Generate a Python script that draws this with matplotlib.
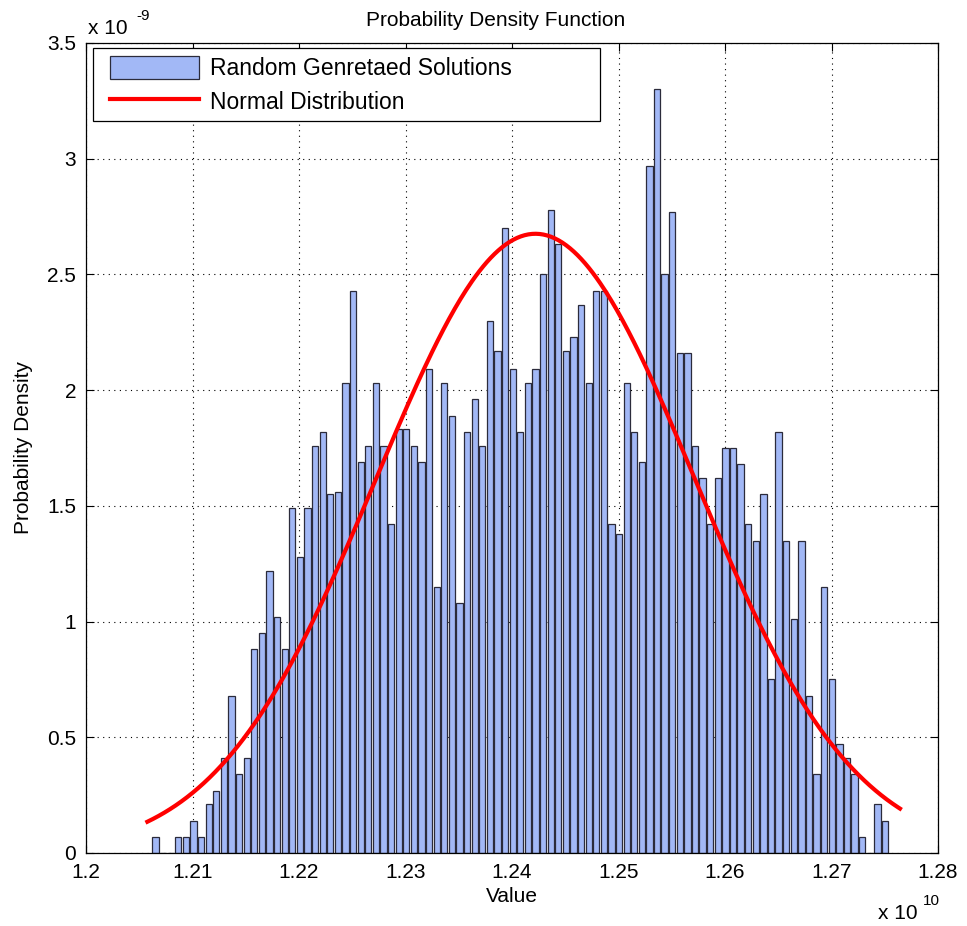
import numpy as np
import matplotlib
matplotlib.use("Agg")
import matplotlib.pyplot as plt
from matplotlib.patches import Rectangle

plt.rcParams['font.family'] = ['Liberation Sans', 'DejaVu Sans']

# Histogram: bin centres (x 1e10) and probability density (x 1e-9)
first_center = 1.206526
bin_width = 0.0007136
density = [
    0.07, 0.00, 0.00, 0.07, 0.07, 0.14, 0.07, 0.21, 0.27, 0.41, 0.68, 0.34,
    0.41, 0.88, 0.95, 1.22, 1.02, 0.88, 1.49, 1.28, 1.49, 1.76, 1.82, 1.55,
    1.56, 2.03, 2.43, 1.69, 1.76, 2.03, 1.76, 1.42, 1.83, 1.83, 1.76, 1.69,
    2.09, 1.15, 2.03, 1.89, 1.08, 1.82, 1.96, 1.76, 2.30, 2.17, 2.70, 2.09, 1.82,
    2.03, 2.09, 2.50, 2.78, 2.63, 2.17, 2.23, 2.37, 2.03, 2.43, 2.43, 1.42, 1.38,
    2.03, 1.82, 1.69, 2.97, 3.30, 2.50, 2.77, 2.16, 2.16, 1.76, 1.62, 1.42,
    1.62, 1.75, 1.75, 1.68, 1.42, 1.35, 1.55, 0.75, 1.82, 1.35, 1.01, 1.35, 0.68,
    0.34, 1.15, 0.75, 0.47, 0.41, 0.34, 0.07, 0.00, 0.21, 0.14,
]

# Fitted normal distribution (x 1e10)
mu = 1.2422
sigma = 0.01491
curve_start = 1.20576
curve_end = 1.27643

x_ticks = [1.2, 1.21, 1.22, 1.23, 1.24, 1.25, 1.26, 1.27, 1.28]
x_tick_labels = ['1.2', '1.21', '1.22', '1.23', '1.24', '1.25', '1.26', '1.27', '1.28']
y_ticks = [0, 0.5, 1, 1.5, 2, 2.5, 3, 3.5]
y_tick_labels = ['0', '0.5', '1', '1.5', '2', '2.5', '3', '3.5']

W, H = 967, 926
AX_L, AX_R, AX_T, AX_B = 86, 938, 43, 853
fig = plt.figure(figsize=(W / 100, H / 100), dpi=100)
ax = fig.add_axes([AX_L / W, 1 - AX_B / H, (AX_R - AX_L) / W, (AX_B - AX_T) / H])
aw, ah = AX_R - AX_L, AX_B - AX_T

centers = first_center + bin_width * np.arange(len(density))
bars = ax.bar(centers, density, width=bin_width * 0.84, color='#A2B8F6',
              edgecolor='#2b2b3b', linewidth=0.9, align='center', zorder=2)

xs = np.linspace(curve_start, curve_end, 400)
pdf = 0.1 / (sigma * np.sqrt(2 * np.pi)) * np.exp(-0.5 * ((xs - mu) / sigma) ** 2)
line, = ax.plot(xs, pdf, color='#FF0000', linewidth=3.0, zorder=3)

ax.set_xlim(1.2, 1.28)
ax.set_ylim(0, 3.5)
ax.set_xticks(x_ticks)
ax.set_xticklabels(x_tick_labels)
ax.set_yticks(y_ticks)
ax.set_yticklabels(y_tick_labels)
ax.tick_params(direction='in', length=6, width=0.8, labelsize=15,
               top=True, right=True, pad=7, colors='black')
ax.grid(True, color='black', linestyle=(0, (1, 4)), linewidth=0.8, zorder=1)
ax.set_axisbelow(True)
for s in ax.spines.values():
    s.set_linewidth(0.9)
    s.set_zorder(5)

fig.text(496 / W, 1 - 20 / H, 'Probability Density Function', fontsize=15,
         ha='center', va='center')
ax.set_xlabel('Value', fontsize=15, labelpad=4)
ax.set_ylabel('Probability Density', fontsize=15, labelpad=10)

# Exponent annotations
fig.text(88 / W, 1 - 34 / H, 'x 10', fontsize=15, ha='left', va='baseline')
fig.text(136 / W, 1 - 20 / H, '-9', fontsize=11, ha='left', va='baseline')
fig.text(878 / W, 1 - 919 / H, 'x 10', fontsize=15, ha='left', va='baseline')
fig.text(923 / W, 1 - 905 / H, '10', fontsize=11, ha='left', va='baseline')

# Legend box
frame = Rectangle(((93 - AX_L) / aw, (AX_B - 121) / ah), (600 - 93) / aw, (121 - 48) / ah,
                  transform=ax.transAxes, facecolor='white', edgecolor='black',
                  linewidth=0.9, zorder=6)
ax.add_patch(frame)
leg = ax.legend([bars, line], ['Random Genretaed Solutions', 'Normal Distribution'],
                loc='upper left', bbox_to_anchor=((110 - AX_L) / aw, (AX_B - 56) / ah),
                fontsize=16.5, frameon=False, handlelength=3.9, handleheight=1.15,
                handletextpad=0.45, borderpad=0, labelspacing=0.42,
                borderaxespad=0)
leg.set_zorder(7)

fig.savefig('out.png', dpi=100)
